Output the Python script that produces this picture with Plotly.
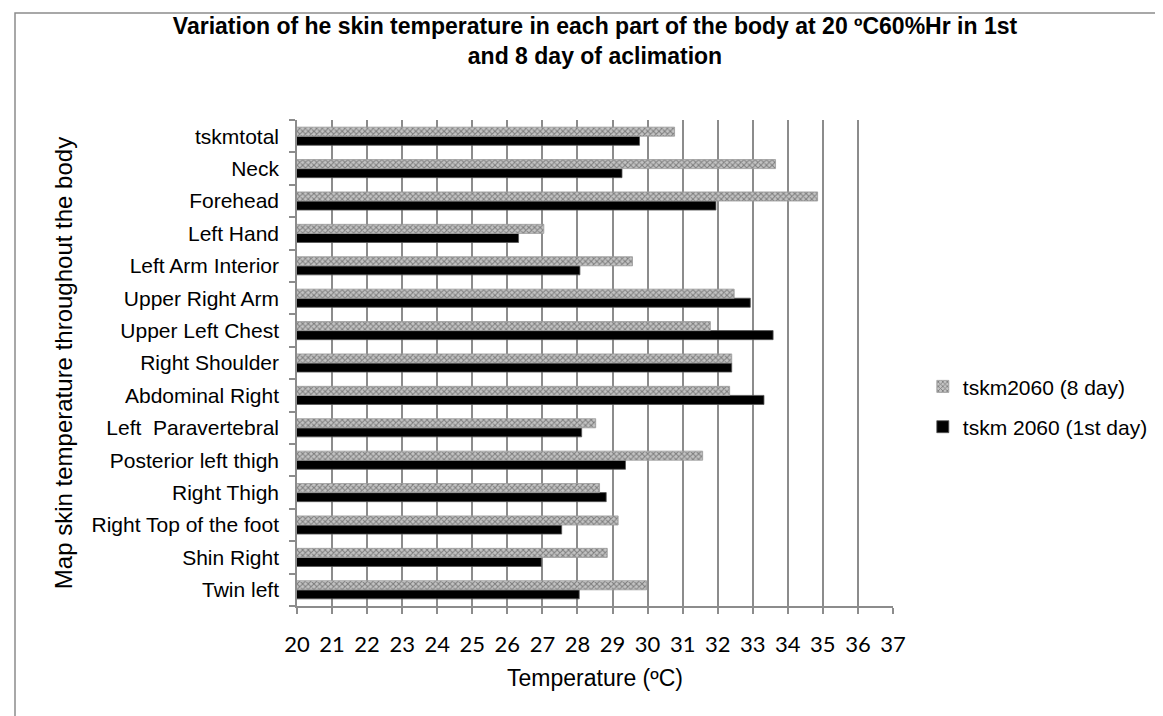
import plotly.graph_objects as go

categories = ["Twin left", "Shin Right", "Right Top of the foot", "Right Thigh",
              "Posterior left thigh", "Left  Paravertebral", "Abdominal Right",
              "Right Shoulder", "Upper Left Chest", "Upper Right Arm",
              "Left Arm Interior", "Left Hand", "Forehead", "Neck", "tskmtotal"]
day1 = [28.05, 26.97, 27.55, 28.82, 29.37, 28.12, 33.32, 32.40, 33.58, 32.93,
        28.07, 26.32, 31.95, 29.27, 29.77]
day8 = [29.97, 28.85, 29.16, 28.63, 31.57, 28.52, 32.34, 32.40, 31.79, 32.47,
        29.57, 27.04, 34.85, 33.65, 30.77]
x_ticks = list(range(20, 38))

fig = go.Figure()
fig.add_trace(go.Bar(
    y=categories, x=day1, orientation="h", name="tskm 2060 (1st day)",
    legendgroup="a", legendrank=2,
    marker=dict(color="#000000", line=dict(color="#555555", width=0.8)),
))
fig.add_trace(go.Bar(
    y=categories, x=day8, orientation="h", name="tskm2060 (8 day)",
    legendgroup="b", legendrank=1,
    marker=dict(color="#b4b4b4", line=dict(color="#9a9a9a", width=0.8),
                pattern=dict(shape="x", size=4, fgcolor="#333333",
                             bgcolor="#c4c4c4", solidity=0.45)),
))

fig.update_layout(
    width=1163, height=716,
    paper_bgcolor="white", plot_bgcolor="white",
    barmode="group", bargap=0.44, bargroupgap=0,
    margin=dict(l=289, r=278, t=112, b=118),
    font=dict(family="Liberation Sans, Arial", color="#000000"),
    title=dict(
        text="<b>Variation of he skin temperature in each part of the body at 20 ºC60%Hr in 1st<br>and 8 day of aclimation</b>",
        x=0.5, xanchor="center", xref="paper", y=0.964, yanchor="top",
        font=dict(size=23, family="Liberation Sans, Arial"),
    ),
    legend=dict(
        x=1.05, xanchor="left", y=0.41, yanchor="middle",
        traceorder="grouped", font=dict(size=21),
        tracegroupgap=10,
        bgcolor="rgba(0,0,0,0)",
    ),
    showlegend=True,
)

fig.update_xaxes(
    range=[20, 37], tickvals=x_ticks, ticktext=[str(v) for v in x_ticks],
    showgrid=True, gridcolor="#8c8c8c", gridwidth=1.5,
    showline=True, linecolor="#8c8c8c", linewidth=1.5,
    ticks="outside", ticklen=6, tickcolor="#8c8c8c", tickwidth=1.5,
    tickfont=dict(size=22, family="Lato, Open Sans"),
    ticklabelstandoff=12,
    title=dict(text="Temperature (ºC)", font=dict(size=23), standoff=14),
    zeroline=False,
)
fig.update_yaxes(
    categoryorder="array", categoryarray=categories,
    showgrid=False, showline=True, linecolor="#8c8c8c", linewidth=1.5,
    ticks="outside", ticklen=6, tickcolor="#8c8c8c", tickwidth=1.5,
    tickson="boundaries",
    tickfont=dict(size=21),
    ticklabelstandoff=12,
    title=dict(text="Map skin temperature throughout the body", font=dict(size=24), standoff=12),
)

fig.add_shape(type="rect", xref="paper", yref="paper",
              x0=-282/596, x1=(1156-289)/596, y0=(598-715)/486, y1=(598-5)/486,
              line=dict(color="#8c8c8c", width=1.5), fillcolor="rgba(0,0,0,0)", layer="below")

fig.write_html("out.html")
